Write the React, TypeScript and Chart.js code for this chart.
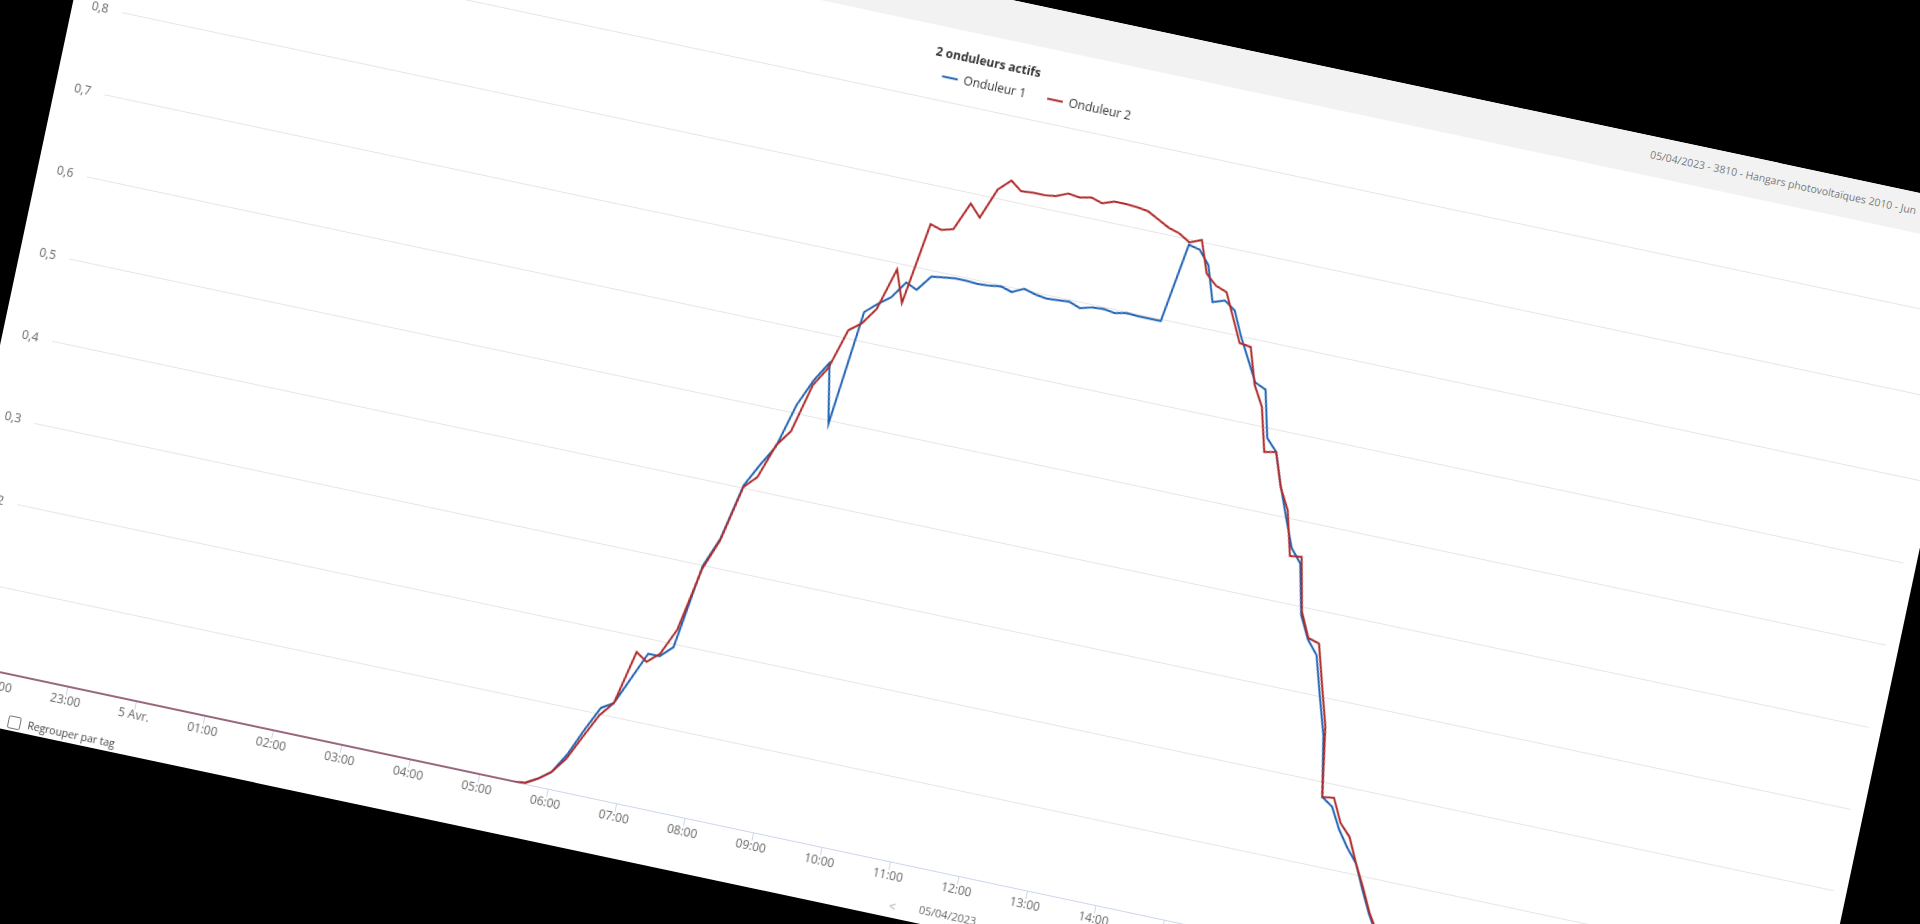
import React, { useEffect, useRef } from "react";
import { Chart, registerables } from "chart.js";

Chart.register(...registerables);

// ---- data (times are axis times; first "22:00" is on 4 Apr) ----
const TIMES = [
  "22:00",
  "05:30", "05:40", "05:50",
  "06:00", "06:10", "06:20", "06:30", "06:40", "06:50",
  "07:00", "07:10", "07:20", "07:30", "07:40", "07:50",
  "08:00", "08:10", "08:20", "08:30", "08:40", "08:50",
  "09:00", "09:10", "09:20", "09:30", "09:40", "09:50",
  "10:00", "10:10", "10:20", "10:30", "10:40", "10:50",
  "11:00", "11:10", "11:20", "11:30", "11:40", "11:50",
  "12:00", "12:10", "12:20", "12:30", "12:40", "12:50",
  "13:00", "13:10", "13:20", "13:30", "13:40", "13:50",
  "14:00", "14:10", "14:20", "14:30", "14:40", "14:50",
  "15:00", "15:10", "15:20", "15:30", "15:40", "15:50",
  "16:00", "16:10", "16:20", "16:30", "16:40", "16:50",
  "17:00", "17:10", "17:20", "17:30", "17:40", "17:50",
  "18:00", "18:10", "18:20", "18:30",
  "22:00",
];

const ONDULEUR_1 = [
  0,
  0, 0.002, 0.01,
  0.021, 0.045, 0.078, 0.108, 0.117, 0.15,
  0.183, 0.183, 0.197, 0.299, 0.335, 0.403,
  0.431, 0.456, 0.51, 0.543, 0.567, 0.496,
  0.635, 0.648, 0.659, 0.68, 0.674, 0.693,
  0.695, 0.697, 0.697, 0.696, 0.697, 0.699,
  0.695, 0.702, 0.698, 0.696, 0.697, 0.698,
  0.693, 0.697, 0.698, 0.696, 0.699, 0.698,
  0.698, 0.698, 0.794, 0.791, 0.775, 0.733,
  0.738, 0.729, 0.7, 0.675, 0.65, 0.644,
  0.588, 0.574, 0.535, 0.5, 0.466, 0.45,
  0.39, 0.363, 0.347, 0.3, 0.255, 0.183,
  0.174, 0.149, 0.13, 0.114, 0.085, 0.058,
  0.035, 0.018, 0.006, 0,
  0,
];

const ONDULEUR_2 = [
  0,
  0, 0.002, 0.01,
  0.021, 0.04, 0.07, 0.099, 0.117, 0.182,
  0.173, 0.186, 0.218, 0.295, 0.333, 0.401,
  0.416, 0.458, 0.478, 0.537, 0.561, 0.61,
  0.621, 0.642, 0.693, 0.655, 0.754, 0.75,
  0.754, 0.788, 0.774, 0.811, 0.825, 0.815,
  0.816, 0.816, 0.818, 0.824, 0.822, 0.825,
  0.821, 0.826, 0.826, 0.825, 0.823, 0.816,
  0.809, 0.805, 0.797, 0.803, 0.765, 0.753,
  0.748, 0.72, 0.692, 0.69, 0.647, 0.623,
  0.571, 0.574, 0.534, 0.509, 0.456, 0.458,
  0.394, 0.365, 0.361, 0.313, 0.266, 0.183,
  0.185, 0.157, 0.143, 0.114, 0.088, 0.06,
  0.038, 0.02, 0.007, 0,
  0,
];

const SERIES_NAMES = ["Onduleur 1", "Onduleur 2"];
const LEGEND_TITLE = "2 onduleurs actifs";

const X_TICK_HOURS = [-2, -1, 0, 1, 2, 3, 4, 5, 6, 7, 8, 9, 10, 11, 12, 13, 14, 15, 16, 17, 18, 19, 20, 21, 22, 23, 24];
const X_TICK_LABELS = [
  "22:00", "23:00", "5 Avr.", "01:00", "02:00", "03:00", "04:00", "05:00", "06:00", "07:00",
  "08:00", "09:00", "10:00", "11:00", "12:00", "13:00", "14:00", "15:00", "16:00", "17:00",
  "18:00", "19:00", "20:00", "21:00", "22:00", "23:00", "6 Avr.",
];
const Y_TICKS = [0, 0.1, 0.2, 0.3, 0.4, 0.5, 0.6, 0.7, 0.8, 0.9];
const Y_TICK_LABELS = ["0", "0,1", "0,2", "0,3", "0,4", "0,5", "0,6", "0,7", "0,8", "0,9"];

const HEADER_TEXT = "05/04/2023 - 3810 - Hangars photovoltaïques 2010 - Jun";
const NAV_DATE = "05/04/2023";
const CHECKBOX_LABEL = "Regrouper par tag";

const BLUE = "#1f63b4";
const RED = "#b02a2a";
const FONT = "'Open Sans', 'Noto Sans', sans-serif";

function toHours(list: string[]): number[] {
  let offset = -24;
  let prev = -Infinity;
  return list.map((s) => {
    const [h, m] = s.split(":").map(Number);
    let v = h + m / 60 + offset;
    if (v < prev) {
      offset += 24;
      v += 24;
    }
    prev = v;
    return v;
  });
}

function ChartCanvas() {
  const ref = useRef<HTMLCanvasElement | null>(null);
  useEffect(() => {
    if (!ref.current) return;
    Chart.defaults.font.family = FONT;
    const hours = toHours(TIMES);
    const mk = (vals: number[]) => hours.map((x, i) => ({ x, y: vals[i] }));
    const chart = new Chart(ref.current, {
      type: "line",
      data: {
        datasets: [
          {
            label: SERIES_NAMES[0],
            data: mk(ONDULEUR_1),
            borderColor: BLUE,
            backgroundColor: BLUE,
            borderWidth: 2,
            pointRadius: 0,
            pointBorderWidth: 2,
            pointBorderColor: BLUE,
            pointStyle: "line",
            tension: 0,
            order: 1,
          },
          {
            label: SERIES_NAMES[1],
            data: mk(ONDULEUR_2),
            borderColor: RED,
            backgroundColor: RED,
            borderWidth: 2,
            pointRadius: 0,
            pointBorderWidth: 2,
            pointBorderColor: RED,
            pointStyle: "line",
            tension: 0,
            order: 0,
          },
        ],
      },
      options: {
        animation: false,
        responsive: false,
        maintainAspectRatio: false,
        layout: { padding: { top: 20.3, left: 17, right: 13, bottom: 0 } },
        plugins: {
          tooltip: { enabled: false },
          legend: {
            display: true,
            position: "top",
            align: "center",
            title: {
              display: true,
              text: LEGEND_TITLE,
              position: "start",
              color: "#333333",
              font: { size: 12, weight: "bold" },
              padding: { top: 0, bottom: -13.4 },
            },
            labels: {
              usePointStyle: true,
              pointStyleWidth: 16,
              padding: 22,
              color: "#333333",
              font: { size: 12 },
              sort: (a: any, b: any) => a.datasetIndex - b.datasetIndex,
            },
          },
        },
        scales: {
          x: {
            type: "linear",
            min: -2.25,
            max: 24.25,
            afterBuildTicks: (s: any) => {
              s.ticks = X_TICK_HOURS.map((v) => ({ value: v }));
            },
            afterFit: (s: any) => {
              s.height = 54.4;
            },
            grid: { drawOnChartArea: false, drawTicks: true, tickLength: 8, color: "#ccd6eb" },
            border: { display: true, color: "#ccd6eb", width: 1 },
            ticks: {
              autoSkip: false,
              maxRotation: 0,
              minRotation: 0,
              padding: -1,
              color: "#666666",
              font: { size: 12 },
              callback: (_v: any, i: number) => X_TICK_LABELS[i],
            },
          },
          y: {
            min: 0,
            max: 0.9103,
            afterBuildTicks: (s: any) => {
              s.ticks = Y_TICKS.map((v) => ({ value: v }));
            },
            afterFit: (s: any) => {
              s.width = 33;
            },
            grid: { color: "#e6e6e6", drawTicks: false },
            border: { display: false },
            ticks: {
              padding: 14,
              color: "#666666",
              font: { size: 12 },
              callback: (_v: any, i: number) => Y_TICK_LABELS[i],
            },
          },
        },
      } as any,
    });
    return () => chart.destroy();
  }, []);
  return (
    <canvas
      ref={ref}
      width={1920}
      height={883}
      style={{ position: "absolute", left: 0, top: 40, width: 1920, height: 883 }}
    />
  );
}

export default function App() {
  return (
    <div
      style={{
        position: "fixed",
        left: 0,
        top: 0,
        width: "100vw",
        height: "100vh",
        background: "#000",
        overflow: "hidden",
      }}
    >
      <div
        style={{
          position: "absolute",
          left: 114.3,
          top: -191.4,
          width: 1920,
          height: 923,
          background: "#ffffff",
          transformOrigin: "0 0",
          transform: "rotate(12deg)",
          fontFamily: FONT,
          overflow: "hidden",
        }}
      >
        <div
          style={{
            position: "absolute",
            left: 0,
            top: 0,
            width: 1920,
            height: 39.5,
            background: "#f2f2f2",
          }}
        />
        <span
          style={{
            position: "absolute",
            left: 1574.6,
            top: 10.5,
            fontSize: 10.5,
            lineHeight: "14px",
            color: "#7a7a7a",
            whiteSpace: "nowrap",
          }}
        >
          {HEADER_TEXT}
        </span>
        <ChartCanvas />
        <span
          style={{
            position: "absolute",
            left: 85.7,
            top: 908.4,
            width: 11,
            height: 11,
            border: "1px solid #767676",
            borderRadius: 2,
            background: "#fff",
          }}
        />
        <span
          style={{
            position: "absolute",
            left: 106,
            top: 907.3,
            fontSize: 10.5,
            lineHeight: "14px",
            color: "#444",
            whiteSpace: "nowrap",
          }}
        >
          {CHECKBOX_LABEL}
        </span>
        <span
          style={{
            position: "absolute",
            left: 985.9,
            top: 904.2,
            fontSize: 12,
            lineHeight: "16px",
            color: "#aaaaaa",
          }}
        >
          {"<"}
        </span>
        <span
          style={{
            position: "absolute",
            left: 1016.2,
            top: 900.7,
            fontSize: 11,
            lineHeight: "15px",
            color: "#666666",
            whiteSpace: "nowrap",
          }}
        >
          {NAV_DATE}
        </span>
      </div>
    </div>
  );
}
